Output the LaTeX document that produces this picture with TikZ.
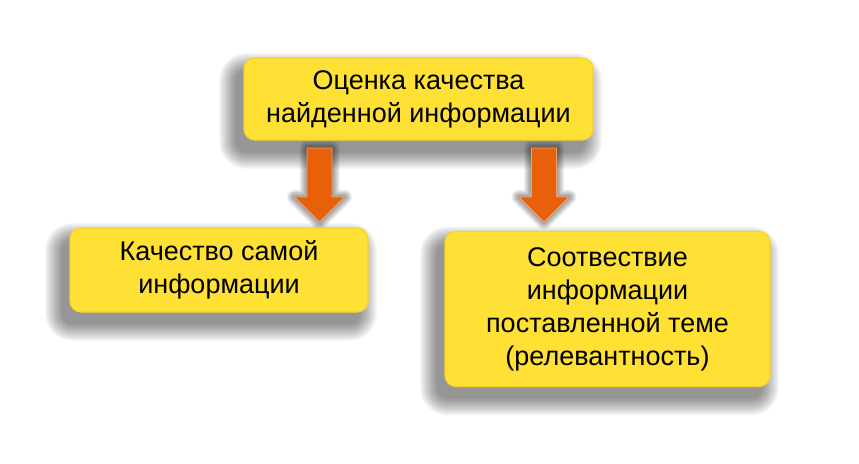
\documentclass[tikz,border=0pt]{standalone}
\usepackage{fontspec}
\setmainfont{Liberation Sans}
\definecolor{boxyellow}{HTML}{FFE135}
\definecolor{boxedge}{HTML}{F7D428}
\definecolor{arroworange}{HTML}{E8600A}
\definecolor{arrowlight}{HTML}{F8A060}
\pgfdeclarelayer{shadowlayer}
\pgfsetlayers{shadowlayer,main}
\tikzset{
  box/.style={draw=boxedge, line width=1.2pt, fill=boxyellow, rounded corners=11pt,
    align=center, font=\fontsize{27}{33}\selectfont, inner sep=0pt},
  blockarrow/.style={fill=arroworange, draw=arrowlight, line width=0.8pt, line join=miter}
}
\newcommand{\boxshadow}[1]{%
  \begin{pgfonlayer}{shadowlayer}
  \foreach \r in {0,2,...,16}{
    \fill[black, fill opacity=0.055, rounded corners={11pt+\r pt}]
      ([shift={(-8-\r,12-\r)}]#1.north west) rectangle ([shift={(-8+\r,12+\r)}]#1.south east);
  }
  \end{pgfonlayer}}
\newcommand{\arrowpath}[1]{([xshift=-12.5pt]#1) -- ([xshift=12.5pt]#1) -- ([xshift=12.5pt,yshift=-49pt]#1)
    -- ([xshift=25pt,yshift=-49pt]#1) -- ([yshift=-74pt]#1) -- ([xshift=-25pt,yshift=-49pt]#1)
    -- ([xshift=-12.5pt,yshift=-49pt]#1) -- cycle}
\begin{document}
\begin{tikzpicture}[x=1pt,y=-1pt]
\begin{pgfonlayer}{shadowlayer}
\fill[white] (0,0) rectangle (859,463);
\end{pgfonlayer}
\useasboundingbox (0,0) rectangle (859,463);
\node[box, minimum width=349pt, minimum height=82pt] (top) at (418.5,99)
  {Оценка качества\\найденной информации};
\node[box, minimum width=298pt, minimum height=84pt] (left) at (219,270)
  {Качество самой\\информации};
\node[box, minimum width=325pt, minimum height=155pt] (right) at (607.5,309)
  {Соотвествие\\информации\\поставленной теме\\(релевантность)};
\boxshadow{top}
\boxshadow{left}
\boxshadow{right}
\coordinate (la) at (319.5,148);
\coordinate (ra) at (544,148);
\foreach \c in {la,ra}{
  \begin{pgfonlayer}{shadowlayer}
  \foreach \r in {1,3,...,15}{
    \draw[black, draw opacity=0.06, line width=\r pt, line join=round, xshift=-10pt, yshift=-6pt] \arrowpath{\c};
  }
  \end{pgfonlayer}
  \draw[blockarrow] \arrowpath{\c};
}
\end{tikzpicture}
\end{document}
